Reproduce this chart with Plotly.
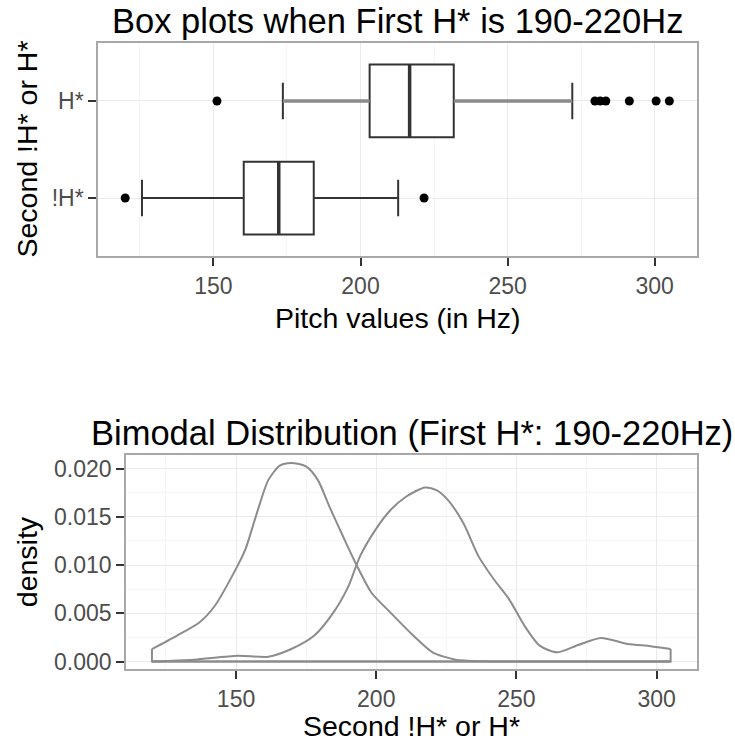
import plotly.graph_objects as go

W, H = 735, 748

# ---- box plot statistics (Hz) ----
categories = ["!H*", "H*"]
q1 = [160.3, 203.1]
median = [172.2, 216.7]
q3 = [184.1, 231.7]
whisker_low = [125.7, 173.6]
whisker_high = [212.8, 272.0]
outliers_nh = [120.0, 221.6]
outliers_h = [151.2, 279.7, 281.5, 283.4, 291.4, 300.5, 305.0]

# ---- kernel density estimates ----
pitch_nh = [120, 128.8, 136.9, 142.4, 149.2, 153.3, 157.4, 161.5, 165.6, 169.7,
            175.1, 179.2, 183.3, 188.7, 192.9, 198.3, 205.1, 213.3, 220.1, 228.3,
            238, 250, 305]
dens_nh = [0.0013, 0.00267, 0.00405, 0.00576, 0.00919, 0.0116, 0.01536, 0.0188,
           0.0203, 0.02058, 0.0202, 0.0188, 0.01605, 0.01262, 0.01005, 0.00713,
           0.00507, 0.00267, 0.00096, 0.0002, 0.00003, 0.0, 0.0]
pitch_h = [120, 135, 150.6, 161.5, 169.7, 177.8, 184.7, 190.1, 194.2, 199.7,
           205.1, 210.6, 217.4, 221.5, 225.6, 231.1, 236.5, 242, 247.4, 252.9,
           258.3, 264.5, 272, 280.2, 289.7, 297.9, 305]
dens_h = [0.0, 0.0002, 0.0006, 0.0005, 0.0013, 0.00267, 0.00507, 0.00782, 0.0109,
          0.01365, 0.0157, 0.01708, 0.01804, 0.01776, 0.01673, 0.01433, 0.0109,
          0.0085, 0.00645, 0.0037, 0.00165, 0.00096, 0.00172, 0.00244, 0.00182,
          0.0016, 0.0013]

x_range = [110.75, 314.4]
dens_ticks = [0.0, 0.005, 0.010, 0.015, 0.020]

FONT = "Liberation Sans, Arial, sans-serif"
DARK = "#333333"
TICK_TXT = "#4d4d4d"
GRID = "#ebebeb"
MINOR = "#f6f6f6"
BORDER = "#a8a8a8"
BOX_W = 0.75


def px_x(x):
    return x / W


def px_y(y):
    return 1 - y / H


fig = go.Figure()

# box plots, one per category, positioned by category index
for i, cat in enumerate(categories):
    fig.add_trace(go.Box(
        y=[i], q1=[q1[i]], median=[median[i]], q3=[q3[i]],
        lowerfence=[whisker_low[i]], upperfence=[whisker_high[i]],
        orientation="h", width=BOX_W, fillcolor="white",
        line=dict(color=DARK, width=2), boxpoints=False,
        name=cat, showlegend=False, xaxis="x", yaxis="y",
    ))

# whiskers of the upper box are drawn a little softer and wider
hi = categories.index("H*")
fig.add_trace(go.Scatter(
    x=[whisker_low[hi], q1[hi], None, q3[hi], whisker_high[hi]],
    y=[hi, hi, None, hi, hi], mode="lines",
    line=dict(color="#8a8a8a", width=3.5), showlegend=False,
    xaxis="x", yaxis="y", hoverinfo="skip",
))

# thicker median bars
for i in range(len(categories)):
    fig.add_trace(go.Scatter(
        x=[median[i], median[i]], y=[i - BOX_W / 2, i + BOX_W / 2],
        mode="lines", line=dict(color=DARK, width=3.5), showlegend=False,
        xaxis="x", yaxis="y", hoverinfo="skip",
    ))

# outliers
for vals, cat in ((outliers_nh, "!H*"), (outliers_h, "H*")):
    idx = categories.index(cat)
    fig.add_trace(go.Scatter(
        x=vals, y=[idx] * len(vals), mode="markers",
        marker=dict(color="black", size=9), showlegend=False,
        xaxis="x", yaxis="y",
    ))

# density outlines: smooth curve plus closing edges down to zero
LINE_C = "#8c8c8c"
for px_, dn in ((pitch_h, dens_h), (pitch_nh, dens_nh)):
    fig.add_trace(go.Scatter(
        x=px_, y=dn, mode="lines", line=dict(color=LINE_C, width=2,
                                                 shape="spline", smoothing=0.7),
        showlegend=False, xaxis="x2", yaxis="y2",
    ))
    fig.add_trace(go.Scatter(
        x=[px_[0], px_[0], px_[-1], px_[-1]], y=[dn[0], 0, 0, dn[-1]],
        mode="lines", line=dict(color=LINE_C, width=2),
        showlegend=False, xaxis="x2", yaxis="y2", hoverinfo="skip",
    ))

axis_common = dict(
    showline=True, mirror=True, linecolor=BORDER, linewidth=1.5,
    ticks="outside", ticklen=8, tickwidth=2, tickcolor=DARK,
    tickfont=dict(family=FONT, size=23, color=TICK_TXT),
    showgrid=True, gridcolor=GRID, gridwidth=1.2, zeroline=False,
)

fig.update_layout(
    width=W, height=H,
    margin=dict(l=0, r=0, t=0, b=0),
    paper_bgcolor="white", plot_bgcolor="white",
    xaxis=dict(
        domain=[px_x(98), px_x(697)], range=x_range,
        tickvals=[150, 200, 250, 300], anchor="y",
        minor=dict(tickvals=[125, 175, 225, 275], showgrid=True,
                   gridcolor=MINOR, ticks=""),
        **axis_common,
    ),
    yaxis=dict(
        domain=[px_y(258), px_y(43)], range=[-0.6, 1.6],
        tickvals=list(range(len(categories))), ticktext=categories,
        anchor="x", **axis_common,
    ),
    xaxis2=dict(
        domain=[px_x(126), px_x(697)], range=x_range,
        tickvals=[150, 200, 250, 300], anchor="y2",
        minor=dict(tickvals=[125, 175, 225, 275], showgrid=True,
                   gridcolor=MINOR, ticks=""),
        **axis_common,
    ),
    yaxis2=dict(
        domain=[px_y(674), px_y(457.7)], range=[-0.00082, 0.02144],
        tickvals=dens_ticks, tickformat=".3f", anchor="x2",
        minor=dict(tickvals=[0.0025, 0.0075, 0.0125, 0.0175], showgrid=True,
                   gridcolor=MINOR, ticks=""),
        **axis_common,
    ),
)

annots = [
    dict(text="Box plots when First H* is 190-220Hz", x=px_x(397.5), y=px_y(21),
         size=34.5, angle=0),
    dict(text="Pitch values (in Hz)", x=px_x(397.5), y=px_y(320), size=28.5, angle=0),
    dict(text="Second !H* or H*", x=px_x(27), y=px_y(150.5), size=28.5, angle=-90),
    dict(text="Bimodal Distribution (First H*: 190-220Hz)", x=px_x(411.5),
         y=px_y(436), size=34.5, angle=0),
    dict(text="Second !H* or H*", x=px_x(411.5), y=px_y(731), size=28.5, angle=0),
    dict(text="density", x=px_x(27), y=px_y(566), size=28.5, angle=-90),
]
for a in annots:
    fig.add_annotation(
        text=a["text"], x=a["x"], y=a["y"], xref="paper", yref="paper",
        xanchor="center", yanchor="middle", showarrow=False,
        textangle=a["angle"], font=dict(family=FONT, size=a["size"], color="black"),
    )

fig.write_html("out.html")
